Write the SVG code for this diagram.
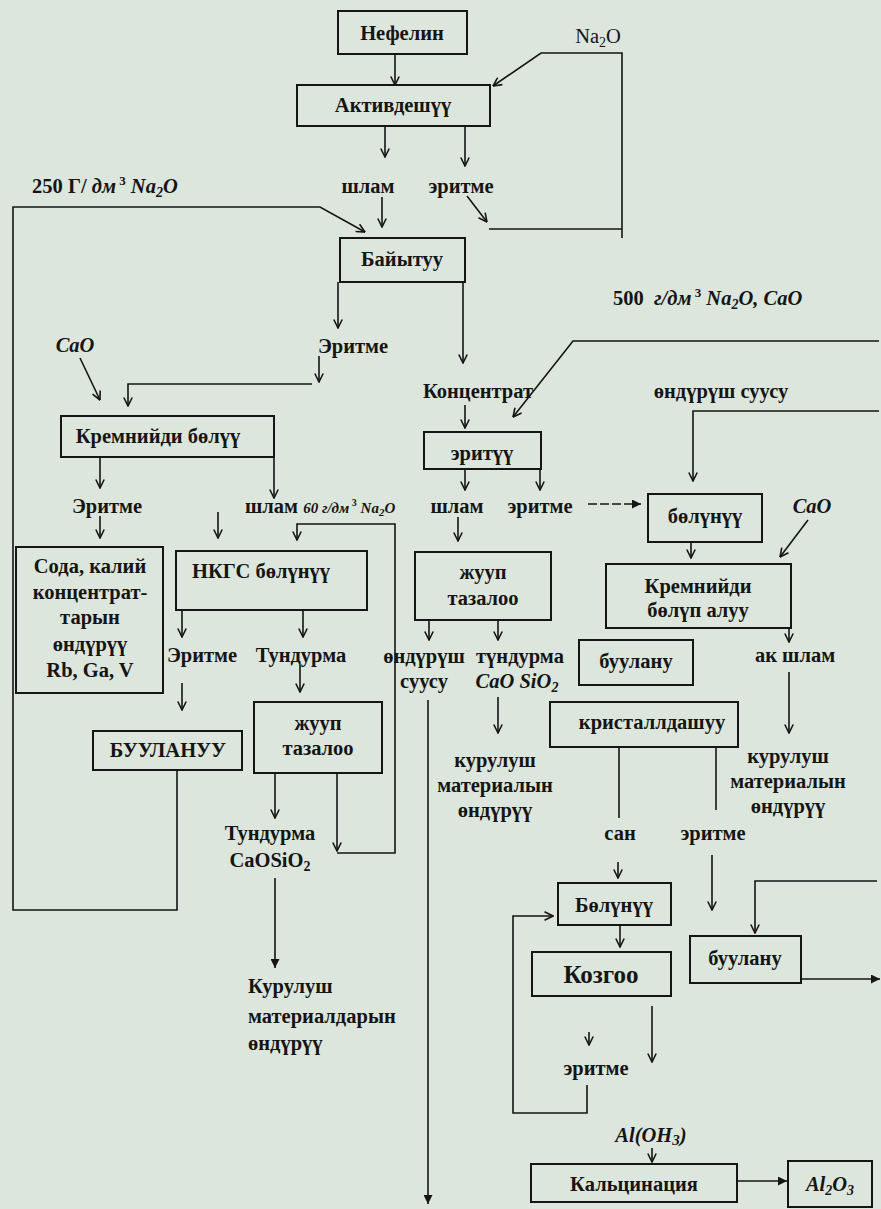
<svg xmlns="http://www.w3.org/2000/svg" width="881" height="1209" viewBox="0 0 881 1209">
<defs>
<marker id="ao" viewBox="0 0 10 10" refX="9.5" refY="5" markerWidth="10" markerHeight="10" markerUnits="userSpaceOnUse" orient="auto"><path d="M1,0.8 L9.5,5 L1,9.2" fill="none" stroke="#151515" stroke-width="1.6"/></marker>
<marker id="af" viewBox="0 0 10 10" refX="10" refY="5" markerWidth="11" markerHeight="9" markerUnits="userSpaceOnUse" orient="auto"><path d="M0,0 L10,5 L0,10z" fill="#151515"/></marker>
</defs>
<style>
.bx{fill:none;stroke:#151515;stroke-width:2}
.t{font-family:"Liberation Serif",serif;font-weight:bold;font-size:20.5px;fill:#151515;text-anchor:middle}
.s{text-anchor:start}
.i{font-style:italic}
.n{font-weight:normal}
.big{font-size:25px}
.ln{fill:none;stroke:#151515;stroke-width:1.6}
.a{marker-end:url(#ao)}
.f{marker-end:url(#af)}
.d{stroke-dasharray:9 3}
</style>
<rect x="0" y="0" width="881" height="1209" fill="#dde6dc"/>

<g id="connectors">
<path class="ln a" d="M395,54 V85"/>
<path class="ln a" d="M622,238 V53 H541 L493,86"/>
<path class="ln a" d="M467,196 L487,222"/>
<path class="ln" d="M489,229 H622"/>
<path class="ln a" d="M385,126 V157"/>
<path class="ln a" d="M465,126 V166"/>
<path class="ln a" d="M382,197 V227"/>
<path class="ln a" d="M177,770 V910 H13 V207 H320 L365,232"/>
<path class="ln a" d="M338,282 V328"/>
<path class="ln a" d="M319,356 V382"/>
<path class="ln a" d="M312,384 H128 V406"/>
<path class="ln a" d="M463,282 V363"/>
<path class="ln a" d="M465,405 V428"/>
<path class="ln a" d="M879,341 H573 L513,417"/>
<path class="ln a" d="M80,358 L100,400"/>
<path class="ln a" d="M100,457 V488"/>
<path class="ln a" d="M100,516 V538"/>
<path class="ln a" d="M274,457 V498"/>
<path class="ln a" d="M218,512 V538"/>
<path class="ln a" d="M337,773 V851"/>
<path class="ln a" d="M337,853 H395 V524 H297 V540"/>
<path class="ln a" d="M182,610 V637"/>
<path class="ln a" d="M303,610 V637"/>
<path class="ln a" d="M182,683 V710"/>
<path class="ln a" d="M300,665 V692"/>
<path class="ln a" d="M275,773 V818"/>
<path class="ln f" d="M275,878 V968"/>
<path class="ln a" d="M465,469 V490"/>
<path class="ln a" d="M540,469 V490"/>
<path class="ln d f" d="M588,504 H641"/>
<path class="ln a" d="M458,517 V541"/>
<path class="ln a" d="M879,411 H693 V481"/>
<path class="ln a" d="M429,620 V640"/>
<path class="ln a" d="M498,620 V640"/>
<path class="ln a" d="M498,697 V733"/>
<path class="ln f" d="M428,700 V1204"/>
<path class="ln a" d="M691,542 V558"/>
<path class="ln a" d="M808,520 L780,557"/>
<path class="ln a" d="M789,628 V642"/>
<path class="ln a" d="M789,672 V733"/>
<path class="ln" d="M619,747 V818"/>
<path class="ln" d="M716,747 V810"/>
<path class="ln a" d="M618,862 V878"/>
<path class="ln a" d="M712,855 V910"/>
<path class="ln a" d="M587,1085 V1113 H513 V916 H553"/>
<path class="ln a" d="M620,925 V947"/>
<path class="ln a" d="M652,1006 V1062"/>
<path class="ln a" d="M589,1032 V1045"/>
<path class="ln a" d="M652,1148 V1162"/>
<path class="ln f" d="M737,1181 H787"/>
<path class="ln a" d="M877,881 H755 V933"/>
<path class="ln f" d="M801,979 H880"/>
</g>

<g id="n-nefelin"><rect class="bx" x="338" y="11" width="129" height="43"/><text class="t" x="402" y="40">Нефелин</text></g>
<g id="l-na2o"><text class="t n" x="598" y="43">Na<tspan font-size="14" dy="4">2</tspan><tspan dy="-4">O</tspan></text></g>
<g id="n-aktiv"><rect class="bx" x="297" y="85" width="193" height="41"/><text class="t" x="393" y="112">Активдешүү</text></g>
<g id="l-shlam1"><text class="t" x="368" y="193">шлам</text></g>
<g id="l-eritme1"><text class="t" x="461" y="193">эритме</text></g>
<g id="l-250"><text class="t s" x="32" y="193">250 Г/ <tspan class="i">дм</tspan><tspan font-size="13" dy="-8"> 3</tspan><tspan class="i" dy="8"> Na</tspan><tspan class="i" font-size="14" dy="4">2</tspan><tspan class="i" dy="-4">O</tspan></text></g>
<g id="n-baiytuu"><rect class="bx" x="340" y="238" width="125" height="44"/><text class="t" x="402" y="266">Байытуу</text></g>
<g id="l-eritme2"><text class="t" x="353" y="353">Эритме</text></g>
<g id="l-konc"><text class="t" x="478" y="398">Концентрат</text></g>
<g id="l-500"><text class="t s" x="613" y="305" xml:space="preserve">500  <tspan class="i">г/дм</tspan><tspan font-size="13" dy="-8"> 3</tspan><tspan class="i" dy="8"> Na</tspan><tspan class="i" font-size="14" dy="4">2</tspan><tspan class="i" dy="-4">O, CaO</tspan></text></g>
<g id="l-cao1"><text class="t i" x="75" y="352">CaO</text></g>
<g id="n-kremn1"><rect class="bx" x="61" y="416" width="213" height="41"/><text class="t" x="158" y="443">Кремнийди бөлүү</text></g>
<g id="l-eritme3"><text class="t" x="107" y="513">Эритме</text></g>
<g id="l-shlam60"><text class="t s" x="245" y="513">шлам <tspan class="i" font-size="15">60 г/дм</tspan><tspan font-size="10" dy="-7"> 3</tspan><tspan class="i" font-size="15" dy="7"> Na</tspan><tspan class="i" font-size="11" dy="3">2</tspan><tspan class="i" font-size="15" dy="-3">O</tspan></text></g>
<g id="n-soda"><rect class="bx" x="16" y="547" width="147" height="146"/><text class="t" x="90" y="573">Сода, калий</text><text class="t" x="90" y="599">концентрат-</text><text class="t" x="90" y="624">тарын</text><text class="t" x="90" y="651">өндүрүү</text><text class="t" x="90" y="677">Rb, Ga, V</text></g>
<g id="n-nkgs"><rect class="bx" x="176" y="551" width="191" height="59"/><text class="t" x="261" y="578">НКГС бөлүнүү</text></g>
<g id="l-eritme4"><text class="t" x="202" y="662">Эритме</text></g>
<g id="l-tund1"><text class="t" x="301" y="662">Тундурма</text></g>
<g id="n-buulanuu"><rect class="bx" x="93" y="731" width="149" height="39"/><text class="t" x="168" y="757">БУУЛАНУУ</text></g>
<g id="n-juup1"><rect class="bx" x="254" y="702" width="128" height="71"/><text class="t" x="318" y="730">жууп</text><text class="t" x="318" y="755">тазалоо</text></g>
<g id="l-tund2"><text class="t" x="270" y="840">Тундурма</text><text class="t" x="270" y="867">CaOSiO<tspan font-size="14" dy="4">2</tspan></text></g>
<g id="l-kurulush1"><text class="t s" x="248" y="993">Курулуш</text><text class="t s" x="248" y="1023">материалдарын</text><text class="t s" x="248" y="1050">өндүрүү</text></g>
<g id="n-erituu"><rect class="bx" x="424" y="432" width="117" height="37"/><text class="t" x="482" y="460">эритүү</text></g>
<g id="l-shlam3"><text class="t" x="457" y="513">шлам</text></g>
<g id="l-eritme5"><text class="t" x="540" y="513">эритме</text></g>
<g id="l-ondurush1"><text class="t" x="721" y="398">өндүрүш суусу</text></g>
<g id="n-bolunuu1"><rect class="bx" x="648" y="494" width="114" height="48"/><text class="t" x="705" y="523">бөлүнүү</text></g>
<g id="l-cao2"><text class="t i" x="812" y="513">CaO</text></g>
<g id="n-juup2"><rect class="bx" x="415" y="552" width="136" height="68"/><text class="t" x="483" y="579">жууп</text><text class="t" x="483" y="605">тазалоо</text></g>
<g id="n-kremn2"><rect class="bx" x="606" y="564" width="185" height="64"/><text class="t" x="698" y="593">Кремнийди</text><text class="t" x="698" y="617">бөлүп алуу</text></g>
<g id="l-ondurush2"><text class="t" x="424" y="663">өндүрүш</text><text class="t" x="424" y="688">суусу</text></g>
<g id="l-tund3"><text class="t" x="520" y="663">түндурма</text><text class="t i" x="517" y="688">CaO SiO<tspan font-size="14" dy="4">2</tspan></text></g>
<g id="n-buulanu1"><rect class="bx" x="579" y="640" width="114" height="45"/><text class="t" x="636" y="668">буулану</text></g>
<g id="l-akshlam"><text class="t" x="795" y="662">ак шлам</text></g>
<g id="l-kurulush2"><text class="t" x="495" y="767">курулуш</text><text class="t" x="495" y="792">материалын</text><text class="t" x="495" y="817">өндүрүү</text></g>
<g id="l-kurulush3"><text class="t" x="788" y="763">курулуш</text><text class="t" x="788" y="788">материалын</text><text class="t" x="788" y="813">өндүрүү</text></g>
<g id="n-krist"><rect class="bx" x="550" y="702" width="188" height="45"/><text class="t" x="652" y="729">кристаллдашуу</text></g>
<g id="l-san"><text class="t" x="620" y="840">сан</text></g>
<g id="l-eritme6"><text class="t" x="713" y="840">эритме</text></g>
<g id="n-bolunuu2"><rect class="bx" x="558" y="883" width="113" height="42"/><text class="t" x="614" y="912">Бөлүнүү</text></g>
<g id="n-kozgoo"><rect class="bx" x="532" y="952" width="139" height="44"/><text class="t big" x="601" y="983">Козгоо</text></g>
<g id="n-buulanu2"><rect class="bx" x="690" y="936" width="111" height="47"/><text class="t" x="745" y="965">буулану</text></g>
<g id="l-eritme7"><text class="t" x="596" y="1075">эритме</text></g>
<g id="l-aloh"><text class="t i" x="651" y="1142">Al(OH<tspan font-size="15" dy="3">3</tspan><tspan dy="-3">)</tspan></text></g>
<g id="n-kalc"><rect class="bx" x="531" y="1164" width="206" height="38"/><text class="t" x="634" y="1191">Кальцинация</text></g>
<g id="n-al2o3"><rect class="bx" x="788" y="1161" width="84" height="46"/><text class="t i" x="830" y="1191">Al<tspan font-size="14" dy="4">2</tspan><tspan dy="-4">O</tspan><tspan font-size="14" dy="4">3</tspan></text></g>
</svg>
